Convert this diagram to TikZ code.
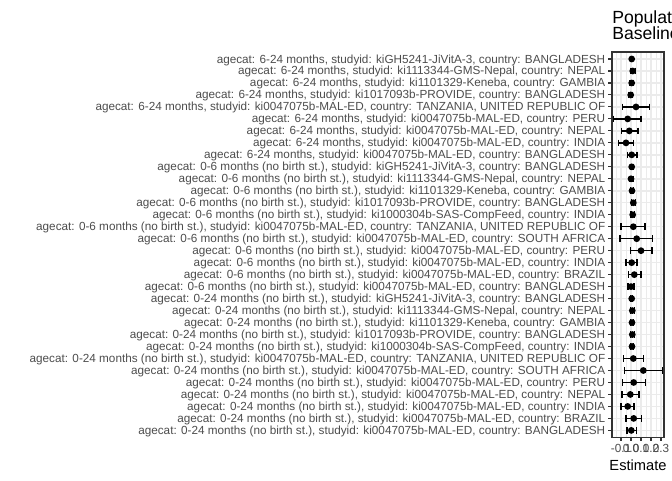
\documentclass[tikz,border=0pt]{standalone}
\usepackage{fontspec}
\setmainfont{Liberation Sans}
\definecolor{axisgray}{RGB}{77,77,77}
\definecolor{framegray}{RGB}{51,51,51}
\definecolor{gridgray}{RGB}{235,235,235}
\newcommand{\ageA}{6-24 months}
\newcommand{\ageB}{0-6 months (no birth st.)}
\newcommand{\ageC}{0-24 months (no birth st.)}

\begin{document}
\begin{tikzpicture}[x=0.75pt,y=-0.75pt]
	\tikzset{ylab/.style={anchor=base east,inner sep=0pt,text=axisgray,font=\fontsize{8.8}{10}\selectfont}}
	\tikzset{xlab/.style={anchor=base,inner sep=0pt,text=axisgray,font=\fontsize{8.8}{10}\selectfont}}
	\tikzset{majorgrid/.style={draw=gridgray,line width=1.07pt}}
	\tikzset{minorgrid/.style={draw=gridgray,line width=0.53pt}}
	\tikzset{tickline/.style={draw=framegray,line width=0.8pt}}
	\tikzset{errbar/.style={draw=black,line width=1.15pt}}
	\useasboundingbox[fill=white] (0,0) rectangle (672,480);
	\clip (0,0) rectangle (672,480);
	% panel and grid
	\coordinate (pnw) at (612,51.8);
	\coordinate (pse) at (664,437.5);
	\foreach \gx in {616,626,...,656}
	    \draw[minorgrid] (\gx,51.8) -- (\gx,437.5);
	\foreach \gx in {621,631,...,661}
	    \draw[majorgrid] (\gx,51.8) -- (\gx,437.5);
	\foreach \i in {1,...,32}
	    \draw[majorgrid] (612,{59+(\i-1)*11.98}) -- (664,{59+(\i-1)*11.98});
	% rows: age / study / country / estimate / lower / upper
	\foreach \age/\sid/\ctry/\est/\lo/\hi [count=\i] in {
	    A/kiGH5241-JiVitA-3/BANGLADESH/631.7/630.7/632.7,
	    A/ki1113344-GMS-Nepal/NEPAL/632.7/630.3/635.7,
	    A/ki1101329-Keneba/GAMBIA/631.7/630/633.4,
	    A/ki1017093b-PROVIDE/BANGLADESH/630.7/628.7/632.7,
	    A/ki0047075b-MAL-ED/{TANZANIA, UNITED REPUBLIC OF}/636/622.3/649.3,
	    A/ki0047075b-MAL-ED/PERU/627.7/613.3/641,
	    A/ki0047075b-MAL-ED/NEPAL/629.3/621.3/638,
	    A/ki0047075b-MAL-ED/INDIA/626/618.7/633.7,
	    A/ki0047075b-MAL-ED/BANGLADESH/631.7/627.7/637,
	    B/kiGH5241-JiVitA-3/BANGLADESH/631.7/630.3/633,
	    B/ki1113344-GMS-Nepal/NEPAL/631/629.3/633,
	    B/ki1101329-Keneba/GAMBIA/632/630.7/633.3,
	    B/ki1017093b-PROVIDE/BANGLADESH/633.3/631.3/635.3,
	    B/ki1000304b-SAS-CompFeed/INDIA/632.7/631/634.7,
	    B/ki0047075b-MAL-ED/{TANZANIA, UNITED REPUBLIC OF}/633.3/621/645,
	    B/ki0047075b-MAL-ED/SOUTH AFRICA/636.7/620/652.7,
	    B/ki0047075b-MAL-ED/PERU/641/630.7/652,
	    B/ki0047075b-MAL-ED/INDIA/631.7/626/637,
	    B/ki0047075b-MAL-ED/BRAZIL/634.3/628.7/641,
	    B/ki0047075b-MAL-ED/BANGLADESH/631/628/634,
	    C/kiGH5241-JiVitA-3/BANGLADESH/631.7/630.7/632.7,
	    C/ki1113344-GMS-Nepal/NEPAL/632.3/630.3/634.3,
	    C/ki1101329-Keneba/GAMBIA/632/630.7/633.3,
	    C/ki1017093b-PROVIDE/BANGLADESH/632.3/630.7/634.3,
	    C/ki1000304b-SAS-CompFeed/INDIA/632/630.3/633.7,
	    C/ki0047075b-MAL-ED/{TANZANIA, UNITED REPUBLIC OF}/633.3/623.3/643.3,
	    C/ki0047075b-MAL-ED/SOUTH AFRICA/643.3/624.7/662.3,
	    C/ki0047075b-MAL-ED/PERU/633.7/622.3/645.3,
	    C/ki0047075b-MAL-ED/NEPAL/630.3/622/639,
	    C/ki0047075b-MAL-ED/INDIA/627.7/621/634,
	    C/ki0047075b-MAL-ED/BRAZIL/633.7/626/641.7,
	    C/ki0047075b-MAL-ED/BANGLADESH/631.3/627/636.3} {
	    \pgfmathsetmacro\ry{59+(\i-1)*11.98}
	    \node[ylab] (lab\i) at (605.5,\ry+4) {agecat: \csname age\age\endcsname, studyid: \sid, country: \ctry};
	    \draw[tickline] (608.3,\ry) -- (612,\ry);
	    \draw[errbar] (\lo,\ry-3.3) -- (\lo,\ry+3.3) (\lo,\ry) -- (\hi,\ry) (\hi,\ry-3.3) -- (\hi,\ry+3.3);
	    \fill (\est,\ry) circle (3.4);
	}
	\draw[draw=framegray,line width=1.07pt] (pnw) rectangle (pse);
	% x axis
	\foreach \v/\t in {-0.1/-0.1,0/0.0,0.1/0.1,0.2/0.2,0.3/0.3} {
	    \draw[tickline] (631+100*\v,437.5) -- (631+100*\v,441.2);
	    \node[xlab] (tk\t) at (631+100*\v,452.5) {\t};
	}
	\node[anchor=base,inner sep=0pt,font=\fontsize{11}{13}\selectfont] (xtitle) at (638,470) {Estimate};
	\node[anchor=base west,inner sep=0pt,font=\fontsize{13.2}{15.8}\selectfont] (title1) at (612,23.5) {Population};
	\node[anchor=base west,inner sep=0pt,font=\fontsize{13.2}{15.8}\selectfont] (title2) at (612,39.3) {Baseline};
\end{tikzpicture}
\end{document}
